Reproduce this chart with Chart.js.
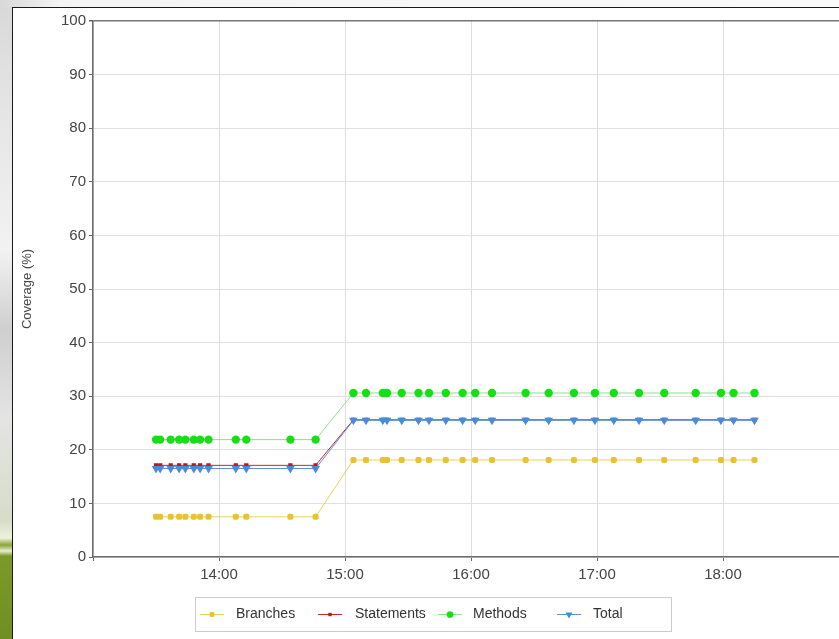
<!DOCTYPE html>
<html>
<head>
<meta charset="utf-8">
<script src="https://cdn.jsdelivr.net/npm/chart.js@4.4.1/dist/chart.umd.min.js"></script>
<style>
  html, body { margin: 0; padding: 0; width: 839px; height: 639px; overflow: hidden; background: #fff; }
  #leftStrip { position: absolute; left: 0; top: 0; width: 12px; height: 639px;
    background: linear-gradient(to bottom, #d8d8d8 0px, #e6e6e6 120px, #f2f2f2 250px, #cfcfcf 330px, #e4e4e4 420px, #d6dcc8 520px, #eef2dc 538px, #8aa53a 545px, #e8eed0 551px, #7b9a28 556px, #6f8f22 639px); }
  #topStrip { position: absolute; left: 0; top: 0; width: 839px; height: 7px; background: linear-gradient(to right, #d8d8d8, #f4f4f4 60px, #fafafa); }
  #frame { position: absolute; left: 12px; top: 7px; width: 900px; height: 640px; border-left: 1px solid #1a1a1a; border-top: 1px solid #1a1a1a; background: #fff; }
  #c { position: absolute; left: 0; top: 0; }
</style>
</head>
<body>
<div id="leftStrip"></div>
<div id="topStrip"></div>
<div id="frame"><canvas id="c" width="842" height="631"></canvas></div>
<script>
// ---- data ----
const times = ['13:30','13:32','13:37','13:41','13:44','13:48','13:51','13:55',
  '14:08','14:13','14:34','14:46',
  '15:04','15:10','15:18','15:20','15:27','15:35','15:40','15:48','15:56','16:02','16:10',
  '16:26','16:37','16:49','16:59','17:08','17:20','17:32','17:47','17:59','18:05','18:15'];
const branches = [7.5,7.5,7.5,7.5,7.5,7.5,7.5,7.5, 7.5,7.5,7.5,7.5,
  18.1,18.1,18.1,18.1,18.1,18.1,18.1,18.1,18.1,18.1,18.1,
  18.1,18.1,18.1,18.1,18.1,18.1,18.1,18.1,18.1,18.1,18.1];
const statements = [17.1,17.1,17.1,17.1,17.1,17.1,17.1,17.1, 17.1,17.1,17.1,17.1,
  25.6,25.6,25.6,25.6,25.6,25.6,25.6,25.6,25.6,25.6,25.6,
  25.6,25.6,25.6,25.6,25.6,25.6,25.6,25.6,25.6,25.6,25.6];
const methods = [21.9,21.9,21.9,21.9,21.9,21.9,21.9,21.9, 21.9,21.9,21.9,21.9,
  30.6,30.6,30.6,30.6,30.6,30.6,30.6,30.6,30.6,30.6,30.6,
  30.6,30.6,30.6,30.6,30.6,30.6,30.6,30.6,30.6,30.6,30.6];
const total = [16.5,16.5,16.5,16.5,16.5,16.5,16.5,16.5, 16.5,16.5,16.5,16.5,
  25.5,25.5,25.5,25.5,25.5,25.5,25.5,25.5,25.5,25.5,25.5,
  25.5,25.5,25.5,25.5,25.5,25.5,25.5,25.5,25.5,25.5,25.5];
const seriesNames = ['Branches', 'Statements', 'Methods', 'Total'];
const hourTicks = ['13:00','14:00','15:00','16:00','17:00','18:00','19:00'];
const shownHourLabels = ['14:00','15:00','16:00','17:00','18:00'];
const yTicks = [0,10,20,30,40,50,60,70,80,90,100];

// ---- helpers ----
function toMin(s) { const p = s.split(':'); return (+p[0]) * 60 + (+p[1]); }
function fmt(m) { const h = Math.floor(m / 60), mm = Math.round(m % 60); return h + ':' + (mm < 10 ? '0' : '') + mm; }
function pts(vals) { return times.map((t, i) => ({ x: toMin(t), y: vals[i] })); }

const styles = [
  { line: 'rgba(232,200,60,0.85)', point: '#e8c232', style: 'rectRounded', r: 3.5, rot: 0 },
  { line: '#c42a2a', point: '#c01818', style: 'rect', r: 3, rot: 0 },
  { line: '#8fe08f', point: '#14e014', style: 'circle', r: 4.2, rot: 0 },
  { line: '#5a8fd6', point: '#4a8ad8', style: 'triangle', r: 5, rot: 180 }
];
const seriesValues = [branches, statements, methods, total];
const orders = [3, 2, 1, 0];

const datasets = seriesNames.map((name, i) => ({
  label: name,
  data: pts(seriesValues[i]),
  borderColor: styles[i].line,
  borderWidth: 1,
  backgroundColor: styles[i].point,
  pointBackgroundColor: styles[i].point,
  pointBorderColor: styles[i].point,
  pointBorderWidth: 0,
  pointStyle: styles[i].style,
  pointRadius: styles[i].r,
  pointRotation: styles[i].rot,
  tension: 0,
  fill: false,
  order: orders[i]
}));

const legendPlugin = {
  id: 'boxLegend',
  afterDraw(chart) {
    const ctx = chart.ctx;
    const bx = 182, by = 589, bw = 476, bh = 34;
    ctx.save();
    ctx.strokeStyle = '#cccccc';
    ctx.lineWidth = 1;
    ctx.strokeRect(bx + 0.5, by + 0.5, bw, bh);
    const cy = by + bh / 2 + 0.5;
    const lineX = [187, 305, 425, 544];
    const textX = [223, 342, 460, 580];
    ctx.font = '14px "Liberation Sans", Arial, sans-serif';
    ctx.textBaseline = 'middle';
    seriesNames.forEach((name, i) => {
      const s = styles[i];
      ctx.strokeStyle = s.line;
      ctx.lineWidth = 1;
      ctx.beginPath();
      ctx.moveTo(lineX[i], cy);
      ctx.lineTo(lineX[i] + 24, cy);
      ctx.stroke();
      ctx.fillStyle = s.point;
      ctx.strokeStyle = s.point;
      Chart.helpers.drawPoint(ctx, { pointStyle: s.style, radius: s.r * 0.8, rotation: s.rot, borderWidth: 0 }, lineX[i] + 12, cy);
      ctx.fillStyle = '#333';
      ctx.fillText(name, textX[i], cy);
    });
    ctx.restore();
  }
};

new Chart(document.getElementById('c'), {
  type: 'line',
  data: { datasets },
  plugins: [legendPlugin],
  options: {
    responsive: false,
    animation: false,
    devicePixelRatio: 1,
    layout: { padding: { top: 13, right: 6, bottom: 52, left: 0 } },
    plugins: { legend: { display: false }, tooltip: { enabled: false } },
    scales: {
      x: {
        type: 'linear',
        min: toMin(hourTicks[0]),
        max: toMin(hourTicks[hourTicks.length - 1]),
        afterBuildTicks(scale) { scale.ticks = hourTicks.map(t => ({ value: toMin(t) })); },
        afterFit(scale) { scale.height = 30; },
        ticks: {
          autoSkip: false,
          maxRotation: 0,
          padding: 5,
          color: '#444',
          font: { family: '"Liberation Sans", Arial, sans-serif', size: 15 },
          callback(v) { const s = fmt(v); return shownHourLabels.includes(s) ? s : ''; }
        },
        grid: { color: '#dcdcdc', lineWidth: 1, tickColor: '#666', tickLength: 4, drawTicks: true },
        border: { color: '#6a6a6a', width: 1.5 }
      },
      y: {
        min: 0,
        max: 100,
        afterBuildTicks(scale) { scale.ticks = yTicks.map(v => ({ value: v })); },
        afterFit(scale) { scale.width = 80; },
        ticks: {
          padding: 3,
          color: '#444',
          font: { family: '"Liberation Sans", Arial, sans-serif', size: 15 }
        },
        grid: {
          color: (c) => (c.tick && c.tick.value === 100) ? '#777' : '#e0e0e0',
          lineWidth: (c) => (c.tick && c.tick.value === 100) ? 1.5 : 1,
          tickColor: '#666', tickLength: 4
        },
        border: { color: '#6a6a6a', width: 1.5 },
        title: {
          display: true,
          text: 'Coverage (%)',
          color: '#444',
          font: { family: '"Liberation Sans", Arial, sans-serif', size: 13 },
          padding: { top: 7, bottom: 0 }
        }
      }
    }
  }
});
</script>
</body>
</html>
